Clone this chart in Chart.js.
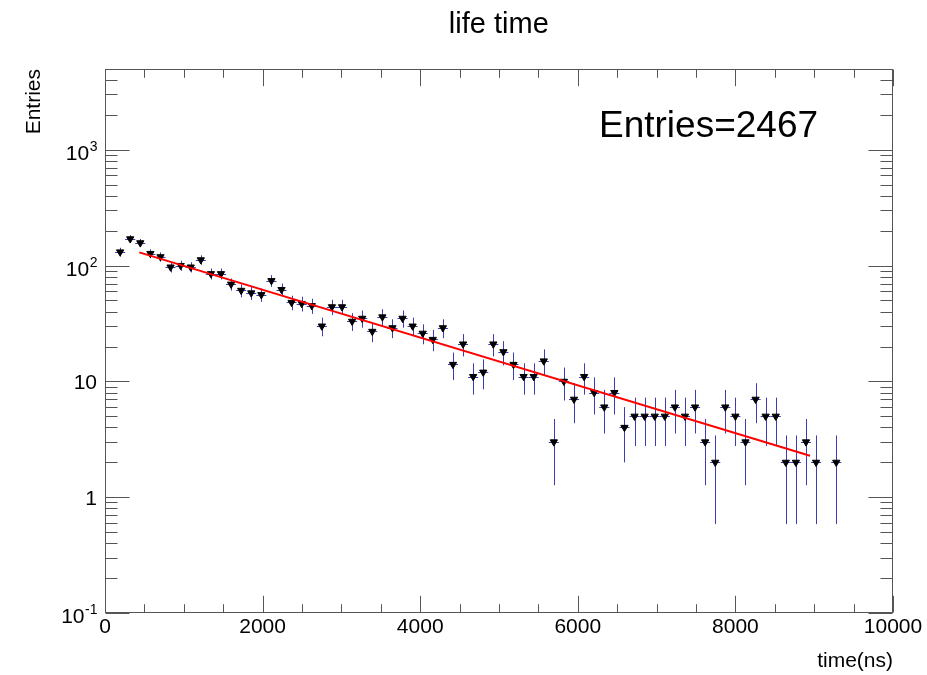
<!DOCTYPE html>
<html><head><meta charset="utf-8">
<script src="https://cdn.jsdelivr.net/npm/chart.js@4"></script>
<style>html,body{margin:0;padding:0;background:#fff}#wrap{width:927px;height:675px;position:relative}</style>
</head><body><div id="wrap"><canvas id="c"></canvas></div>
<script>
const histTitle = 'life time';
const xTitle = 'time(ns)';
const yTitle = 'Entries';
const statsText = 'Entries=2467';
const firstBinLow = 128;
const binWidth = 128;
const counts = [131,170,157,127,119,97,100,97,112,85,85,69,61,58,56,74,62,48,47,45,30,44,44,33,
  35,27,36,29,35,30,26,23,29,14,21,11,12,21,18,14,11,11,15,
  3,10,7,11,8,6,8,4,5,5,5,5,6,5,6,3,2,6,5,3,7,5,5,2,2,3,2,0,2];
const xTickValues = [0,2000,4000,6000,8000,10000];
const yTickValues = [0.1,1,10,100,1000];
const yTickBase = ['10','1','10','10','10'];
const yTickExp = ['-1','','','2','3'];
const fitX = [435, 8947];
const fitY = [130, 2.28];

const FONT = "'Liberation Sans', Arial, Helvetica, sans-serif";
const X_MIN = 0, X_MAX = 10000, Y_MIN = 0.1, Y_MAX = 4980;

const points = [];
counts.forEach((n, i) => {
  if (n > 0) points.push({x: firstBinLow + (i + 0.5) * binWidth, y: n});
});
const fitData = fitX.map((x, i) => ({x, y: fitY[i]}));

const errorBars = {
  id: 'errorBars',
  beforeDatasetsDraw(chart) {
    const {ctx, chartArea: a, scales: {x, y}} = chart;
    ctx.save();
    ctx.beginPath(); ctx.rect(a.left, a.top, a.right - a.left, a.bottom - a.top); ctx.clip();
    ctx.strokeStyle = '#3c3cb4';
    ctx.lineWidth = 1;
    points.forEach(p => {
      const e = Math.sqrt(p.y);
      const px = Math.round(x.getPixelForValue(p.x)) + 0.5;
      const py = Math.round(y.getPixelForValue(p.y)) + 0.5;
      const yTop = y.getPixelForValue(p.y + e);
      const yBot = y.getPixelForValue(Math.max(p.y - e, Y_MIN));
      const xl = x.getPixelForValue(p.x - binWidth / 2);
      const xr = x.getPixelForValue(p.x + binWidth / 2);
      ctx.beginPath();
      ctx.moveTo(px, yTop); ctx.lineTo(px, yBot);
      ctx.moveTo(xl, py); ctx.lineTo(xr, py);
      ctx.stroke();
    });
    ctx.restore();
  }
};

const frameTicks = {
  id: 'frameTicks',
  afterDraw(chart) {
    const {ctx, chartArea: a, scales: {x, y}} = chart;
    ctx.save();
    ctx.strokeStyle = '#555';
    ctx.lineWidth = 1;
    const L = Math.round(a.left) + 0.5, R = Math.round(a.right) - 0.5;
    const T = Math.round(a.top) + 0.5, B = Math.round(a.bottom) - 0.5;
    ctx.strokeRect(L, T, R - L, B - T);
    ctx.beginPath();
    for (let v = X_MIN; v <= X_MAX; v += 500) {
      const major = xTickValues.includes(v);
      const len = major ? 16.7 : 8.3;
      const px = Math.round(x.getPixelForValue(v)) + 0.5;
      ctx.moveTo(px, B); ctx.lineTo(px, B - len);
      ctx.moveTo(px, T); ctx.lineTo(px, T + len);
    }
    for (let d = 0.1; d < Y_MAX; d *= 10) {
      for (let m = 1; m <= 9; m++) {
        const v = m * d;
        if (v < Y_MIN * 0.999 || v > Y_MAX) continue;
        const len = m === 1 ? 24 : 12;
        const py = Math.round(y.getPixelForValue(v)) + 0.5;
        ctx.moveTo(L, py); ctx.lineTo(L + len, py);
        ctx.moveTo(R, py); ctx.lineTo(R - len, py);
      }
    }
    ctx.stroke();

    // y tick labels with superscript exponents
    ctx.fillStyle = '#000';
    ctx.textBaseline = 'alphabetic';
    ctx.textAlign = 'left';
    const rightEdge = 97;
    yTickValues.forEach((v, i) => {
      const py = y.getPixelForValue(v);
      const base = yTickBase[i], ex = yTickExp[i];
      ctx.font = '21px ' + FONT;
      const wb = ctx.measureText(base).width;
      ctx.font = '14px ' + FONT;
      const we = ex ? ctx.measureText(ex).width : 0;
      const x0 = rightEdge - wb - we;
      const baseY = ex ? py + 10 : py + 7.5;
      ctx.font = '21px ' + FONT;
      ctx.fillText(base, x0, baseY);
      if (ex) {
        ctx.font = '14px ' + FONT;
        ctx.fillText(ex, x0 + wb + 0.5, py + 1);
      }
    });

    ctx.font = '29px ' + FONT;
    ctx.textAlign = 'center';
    ctx.fillText(histTitle, 498.8, 33.3);
    ctx.font = '37px ' + FONT;
    ctx.textAlign = 'left';
    ctx.fillText(statsText, 599, 136.7);
    ctx.restore();
  }
};

new Chart(document.getElementById('c'), {
  type: 'scatter',
  data: {
    datasets: [
      {
        label: 'fit', type: 'line', data: fitData, order: 0,
        borderColor: '#ff0000', borderWidth: 2, pointRadius: 0, fill: false, tension: 0
      },
      {
        label: 'lifetime', data: points, order: 1,
        pointStyle: 'triangle', rotation: 180, pointRadius: 4.2,
        backgroundColor: '#000', borderColor: '#000', borderWidth: 1, showLine: false
      }
    ]
  },
  options: {
    responsive: true, maintainAspectRatio: false, animation: false,
    layout: {padding: {top: 69, right: 34, left: 0, bottom: 0}},
    plugins: {legend: {display: false}, tooltip: {enabled: false}, title: {display: false}},
    scales: {
      x: {
        type: 'linear', min: X_MIN, max: X_MAX,
        grid: {display: false, drawTicks: false}, border: {display: false},
        afterBuildTicks: s => { s.ticks = xTickValues.map(v => ({value: v})); },
        afterFit: s => { s.height = 62; s.paddingLeft = 0; s.paddingRight = 0; },
        ticks: {padding: 2, color: '#000', font: {family: FONT, size: 21}, maxRotation: 0, autoSkip: false,
          callback: v => String(v)},
        title: {display: true, text: xTitle, align: 'end', color: '#000', font: {family: FONT, size: 21}, padding: {top: 0, bottom: 1.5}}
      },
      y: {
        type: 'logarithmic', min: Y_MIN, max: Y_MAX,
        grid: {display: false, drawTicks: false}, border: {display: false},
        afterBuildTicks: s => { s.ticks = yTickValues.map(v => ({value: v})); },
        afterFit: s => { s.width = 105; s.paddingTop = 0; s.paddingBottom = 0; },
        ticks: {display: false, autoSkip: false},
        title: {display: true, text: yTitle, align: 'end', color: '#000', font: {family: FONT, size: 21}, padding: {top: 21.7, bottom: 0}}
      }
    }
  },
  plugins: [errorBars, frameTicks]
});
</script>
</body></html>
